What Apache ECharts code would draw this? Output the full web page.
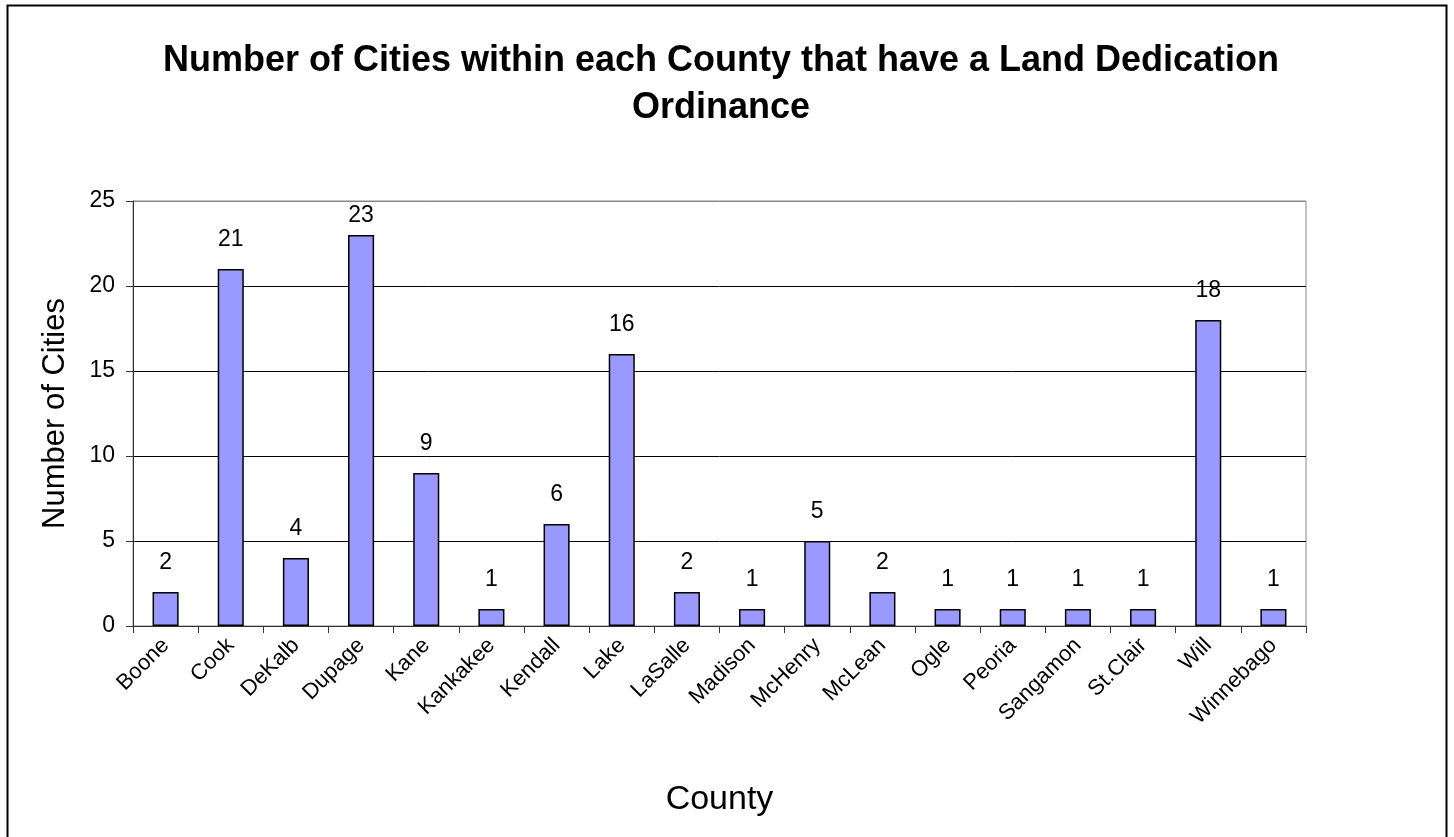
<!DOCTYPE html>
<html>
<head>
<meta charset="utf-8">
<script src="https://cdn.jsdelivr.net/npm/echarts@6/dist/echarts.min.js"></script>
<style>
  html, body { margin: 0; padding: 0; background: #fff; }
  #chart { width: 1454px; height: 837px; }
</style>
</head>
<body>
<div id="chart"></div>
<script>
let counties = ["Boone", "Cook", "DeKalb", "Dupage", "Kane", "Kankakee", "Kendall", "Lake", "LaSalle",
    "Madison", "McHenry", "McLean", "Ogle", "Peoria", "Sangamon", "St.Clair", "Will", "Winnebago"];
let cityCounts = [2, 21, 4, 23, 9, 1, 6, 16, 2, 1, 5, 2, 1, 1, 1, 1, 18, 1];

let chart = echarts.init(document.getElementById("chart"));
let font = "Liberation Sans, Arial, sans-serif";

// the tallest bar's label gets squeezed under the top of the plot, like in the original
let barData = cityCounts.map(v => v > 22 ? { value: v, label: { distance: 8 } } : v);

chart.setOption({
    animation: false,
    textStyle: { fontFamily: font, color: "#000" },
    graphic: [{
        type: "rect",
        shape: { x: 7.5, y: 5.5, width: 1439, height: 850 },
        style: { fill: null, stroke: "#000", lineWidth: 2 }
    }],
    title: {
        text: "Number of Cities within each County that have a Land Dedication\nOrdinance",
        left: 716,
        textAlign: "center",
        top: 33,
        textStyle: { fontFamily: font, fontSize: 36, fontWeight: "bold", color: "#000", lineHeight: 47 }
    },
    grid: { left: 133, right: 148, top: 201, bottom: 211, show: true, borderColor: "#888", borderWidth: 1 },
    xAxis: {
        type: "category",
        data: counties,
        name: "County",
        nameLocation: "middle",
        nameGap: 157,
        nameTextStyle: { fontSize: 34, color: "#000" },
        axisLine: { lineStyle: { color: "#333", width: 1 } },
        axisTick: { show: true, length: 7, alignWithLabel: false, lineStyle: { color: "#333" } },
        axisLabel: { interval: 0, rotate: 45, fontSize: 22, color: "#000", margin: 16 }
    },
    yAxis: {
        type: "value",
        min: 0,
        max: 25,
        interval: 5,
        name: "Number of Cities",
        nameLocation: "middle",
        nameGap: 62,
        nameTextStyle: { fontSize: 31, color: "#000" },
        axisLine: { show: true, lineStyle: { color: "#333", width: 1 } },
        axisTick: { show: true, length: 7, lineStyle: { color: "#333" } },
        axisLabel: { fontSize: 23, color: "#000", margin: 18 },
        splitLine: { lineStyle: { color: ["#000", "#000", "#000", "#000", "#000", "#888"], width: 1 } }
    },
    series: [{
        type: "bar",
        data: barData,
        barWidth: "40%",
        itemStyle: { color: "#9999FF", borderColor: "#000", borderWidth: 1.5 },
        label: { show: true, position: "top", distance: 18, fontSize: 23, color: "#000" }
    }]
});
</script>
</body>
</html>
